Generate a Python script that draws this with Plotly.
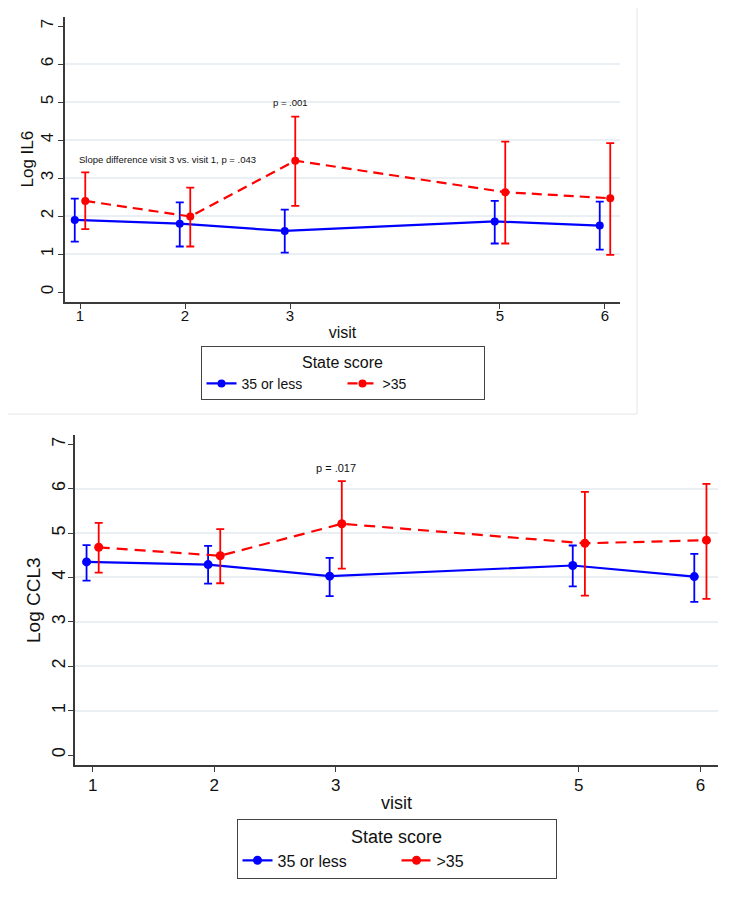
import plotly.graph_objects as go

# ---- data ----
visits = [1, 2, 3, 5, 6]
visit_labels = ["1", "2", "3", "5", "6"]
series_names = ["35 or less", ">35"]

il6_low_mean = [1.90, 1.80, 1.61, 1.86, 1.75]
il6_low_lo = [1.33, 1.20, 1.04, 1.28, 1.12]
il6_low_hi = [2.46, 2.36, 2.17, 2.40, 2.38]
il6_high_mean = [2.40, 1.99, 3.46, 2.63, 2.47]
il6_high_lo = [1.66, 1.20, 2.27, 1.28, 0.98]
il6_high_hi = [3.15, 2.75, 4.62, 3.96, 3.92]

ccl3_low_mean = [4.35, 4.29, 4.03, 4.27, 4.02]
ccl3_low_lo = [3.93, 3.86, 3.58, 3.80, 3.45]
ccl3_low_hi = [4.73, 4.71, 4.44, 4.72, 4.53]
ccl3_high_mean = [4.68, 4.49, 5.21, 4.77, 4.84]
ccl3_high_lo = [4.11, 3.87, 4.20, 3.59, 3.52]
ccl3_high_hi = [5.23, 5.09, 6.17, 5.93, 6.11]

y_ticks = [0, 1, 2, 3, 4, 5, 6, 7]
grid_vals = [1, 2, 3, 4, 5, 6]

FONT = "Liberation Sans, Arial, Helvetica, sans-serif"
BLUE = "#0000ff"
RED = "#ff0000"
AX = "#3a3a3a"
GRID = "#e9eff2"
DODGE = 0.05

# the page body has an 8px margin; the figure is sized to sit inside it
OFF = 8
W, H = 740 - OFF, 900 - 2 * OFF


def px(x):
    return (x - OFF) / W


def py(y):
    return 1 - (y - OFF) / H


def xd(a, b):
    return [px(a), px(b)]


def yd(top, bottom):
    return [py(bottom), py(top)]


fig = go.Figure()


def add_series(mean, lo, hi, color, dash, offset, name, xa, ya, legend, size):
    xs = [v + offset for v in visits]
    fig.add_trace(go.Scatter(
        x=xs, y=mean, name=name, mode="lines+markers",
        line=dict(color=color, width=2.2, dash=dash),
        marker=dict(color=color, size=size),
        error_y=dict(type="data", symmetric=False,
                     array=[h - m for h, m in zip(hi, mean)],
                     arrayminus=[m - l for m, l in zip(mean, lo)],
                     color=color, thickness=1.8, width=4),
        xaxis=xa, yaxis=ya, legend=legend,
    ))


add_series(il6_low_mean, il6_low_lo, il6_low_hi, BLUE, "solid", -DODGE,
           series_names[0], "x", "y", "legend", 8)
add_series(il6_high_mean, il6_high_lo, il6_high_hi, RED, "10px,6px", DODGE,
           series_names[1], "x", "y", "legend", 8)
add_series(ccl3_low_mean, ccl3_low_lo, ccl3_low_hi, BLUE, "solid", -DODGE,
           series_names[0], "x2", "y2", "legend2", 9)
add_series(ccl3_high_mean, ccl3_high_lo, ccl3_high_hi, RED, "11px,7px", DODGE,
           series_names[1], "x2", "y2", "legend2", 9)


def xcommon(fs, so):
    return dict(tickmode="array", tickvals=visits, ticktext=visit_labels,
                showline=True, linecolor=AX, linewidth=1.5, automargin=False,
                ticks="outside", ticklen=5, tickcolor=AX, tickwidth=1.2,
                showgrid=False, zeroline=False, ticklabelstandoff=so,
                tickfont=dict(family=FONT, size=fs, color="#111"))


def ycommon(fs, so):
    return dict(tickmode="array", tickvals=y_ticks, automargin=False,
                showline=True, linecolor=AX, linewidth=1.5,
                ticks="outside", ticklen=5, tickcolor=AX, tickwidth=1.2,
                showgrid=False, zeroline=False, tickangle=-90,
                ticklabelstandoff=so,
                tickfont=dict(family=FONT, size=fs, color="#111"))


ygrid = dict(tickmode="array", tickvals=grid_vals, showticklabels=False,
             showgrid=True, gridcolor=GRID, gridwidth=1.5, showline=False,
             ticks="", zeroline=False, automargin=False)

fig.update_layout(
    width=W, height=H, margin=dict(l=0, r=0, t=0, b=0),
    paper_bgcolor="white", plot_bgcolor="white",
    font=dict(family=FONT, color="#111"),
    xaxis=dict(domain=xd(65, 620), range=[0.857, 6.143], anchor="y",
               title=dict(text="visit", font=dict(size=16), standoff=4),
               **xcommon(15, -6)),
    yaxis=dict(domain=yd(17, 302), range=[-0.26, 7.24], anchor="x",
               **ycommon(17, -2)),
    yaxis3=dict(overlaying="y", anchor="x", range=[-0.26, 7.24], **ygrid),
    xaxis2=dict(domain=xd(75, 718), range=[0.855, 6.145], anchor="y2",
                title=dict(text="visit", font=dict(size=18), standoff=2),
                **xcommon(17, -1)),
    yaxis2=dict(domain=yd(435, 765), range=[-0.225, 7.21], anchor="x2",
                **ycommon(18, -4)),
    yaxis4=dict(overlaying="y2", anchor="x2", range=[-0.225, 7.21], **ygrid),
    legend=dict(
        title=dict(text="State score", side="top center",
                   font=dict(size=16, family=FONT)),
        orientation="h", x=px(342.5), xanchor="center",
        y=py(346), yanchor="top",
        bordercolor="#444", borderwidth=1, bgcolor="white",
        font=dict(size=14, family=FONT), entrywidth=96,
    ),
    legend2=dict(
        title=dict(text="State score", side="top center",
                   font=dict(size=18, family=FONT)),
        orientation="h", x=px(396.5), xanchor="center",
        y=py(819), yanchor="top",
        bordercolor="#444", borderwidth=1, bgcolor="white",
        font=dict(size=16, family=FONT), entrywidth=114,
    ),
    showlegend=True,
)

# empty traces so the grid overlay axes exist
fig.add_trace(go.Scatter(x=[None], y=[None], xaxis="x", yaxis="y3",
                         showlegend=False, hoverinfo="skip"))
fig.add_trace(go.Scatter(x=[None], y=[None], xaxis="x2", yaxis="y4",
                         showlegend=False, hoverinfo="skip"))

# y-axis titles (placed as rotated text next to the tick labels)
fig.add_annotation(x=px(27), y=0.5, xref="paper", yref="y domain",
                   xanchor="center", yanchor="middle",
                   text="Log IL6", textangle=-90, showarrow=False,
                   font=dict(size=17, family=FONT))
fig.add_annotation(x=px(33), y=0.5, xref="paper", yref="y2 domain",
                   xanchor="center", yanchor="middle",
                   text="Log CCL3", textangle=-90, showarrow=False,
                   font=dict(size=19, family=FONT))

fig.add_annotation(x=3, y=4.98, xref="x", yref="y", text="p = .001",
                   showarrow=False, font=dict(size=9.5, family=FONT))
fig.add_annotation(x=0.97, y=3.48, xref="x", yref="y",
                   text="Slope difference visit 3 vs. visit 1, p = .043",
                   showarrow=False, xanchor="left", font=dict(size=9.5, family=FONT))
fig.add_annotation(x=3, y=6.47, xref="x2", yref="y2", text="p = .017",
                   showarrow=False, font=dict(size=11, family=FONT))

# faint frame of the upper panel
fig.add_shape(type="line", xref="paper", yref="paper",
              x0=0, x1=px(637), y0=py(414), y1=py(414),
              line=dict(color="#eeeeee", width=1.5))
fig.add_shape(type="line", xref="paper", yref="paper",
              x0=px(637), x1=px(637), y0=py(414), y1=1,
              line=dict(color="#eeeeee", width=1.5))

fig.write_html("out.html")
